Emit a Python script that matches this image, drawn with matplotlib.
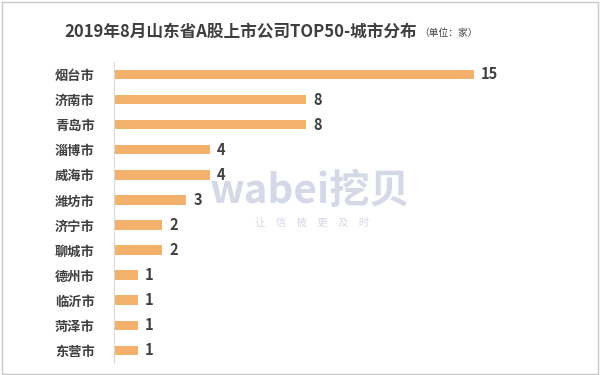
import matplotlib
matplotlib.use("Agg")
import matplotlib.pyplot as plt
from matplotlib.patches import Rectangle

plt.rcParams['font.family'] = ['Noto Sans CJK SC', 'DejaVu Sans']

cities = ["烟台市", "济南市", "青岛市", "淄博市", "威海市", "潍坊市",
          "济宁市", "聊城市", "德州市", "临沂市", "菏泽市", "东营市"]
counts = [15, 8, 8, 4, 4, 3, 2, 2, 1, 1, 1, 1]

BAR = "#F4B16B"
TXT = "#3F3F3F"

fig = plt.figure(figsize=(6, 3.75), dpi=100)
ax = fig.add_axes([0.19, 0.032, 0.68, 0.803])

ypos = list(range(len(cities)))
ax.barh(ypos, counts, height=0.38, color=BAR)
ax.set_ylim(len(cities) - 0.5, -0.5)
ax.set_xlim(0, 17)

ax.set_yticks(ypos)
ax.set_yticklabels(cities, fontsize=9.5, fontweight="bold", color=TXT)
ax.tick_params(axis="y", length=0, pad=14)
ax.set_xticks([])
for s in ["top", "right", "bottom"]:
    ax.spines[s].set_visible(False)
ax.spines["left"].set_color("#D9D9D9")
ax.spines["left"].set_linewidth(0.8)

for y, v in zip(ypos, counts):
    ax.text(v + 0.3, y, str(v), va="center", ha="left",
            fontsize=10.5, fontweight="bold", color=TXT)

# 标题
title = fig.text(0.108, 0.915, "2019年8月山东省A股上市公司TOP50-城市分布",
                 fontsize=12, fontweight="bold", color=TXT, va="center", ha="left")
ax.annotate("（单位：家）", xy=(1, 0.45), xycoords=title, xytext=(1, 0),
            textcoords="offset points", fontsize=7, color=TXT,
            va="center", ha="left")

# 水印
fig.text(0.517, 0.49, "wabei挖贝", fontsize=29, fontweight="bold",
         color="#D5D8E7", ha="center", va="center", zorder=0)
fig.text(0.52, 0.405, "让　信　披　更　及　时", fontsize=7.5, color="#D5D8E7",
         ha="center", va="center", zorder=0)

# 外框
fig.patches.append(Rectangle((0.003, 0.004), 0.994, 0.99, transform=fig.transFigure,
                             fill=False, edgecolor="#C8C8C8", linewidth=1.0))

fig.savefig("out.png", dpi=100)
plt.close(fig)
